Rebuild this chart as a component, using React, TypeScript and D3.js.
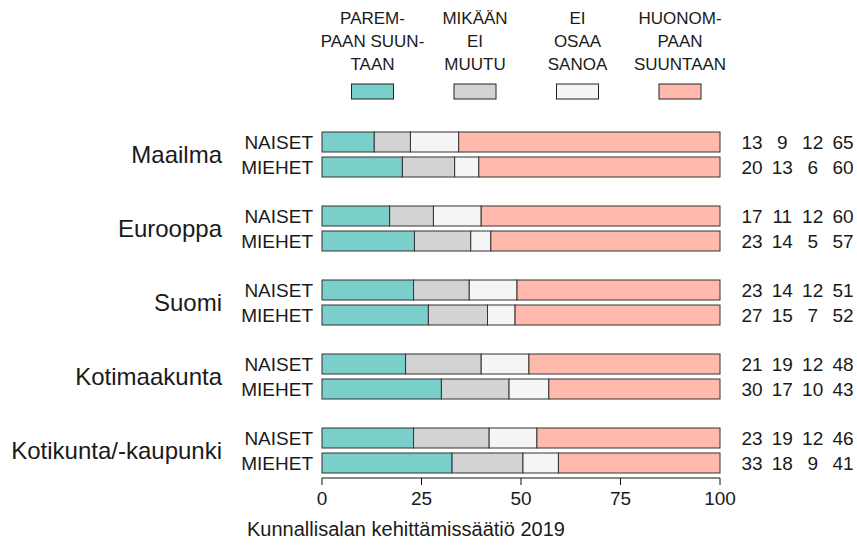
import React from "react";
import * as d3 from "d3";

const width = 857;
const height = 548;
const font = "'Liberation Sans', Arial, Helvetica, sans-serif";

const regions = ["Maailma", "Eurooppa", "Suomi", "Kotimaakunta", "Kotikunta/-kaupunki"];
const genders = ["NAISET", "MIEHET"];
const answerKeys = ["better", "same", "unknown", "worse"];
const answerLabels = [
  ["PAREM-", "PAAN SUUN-", "TAAN"],
  ["MIKÄÄN", "EI", "MUUTU"],
  ["EI", "OSAA", "SANOA"],
  ["HUONOM-", "PAAN", "SUUNTAAN"]
];
const colors = ["#7bcfca", "#d3d3d3", "#f5f5f5", "#ffb9ad"];

// percentages per region: [naiset, miehet], order better/same/unknown/worse
const maailma = [[13, 9, 12, 65], [20, 13, 6, 60]];
const eurooppa = [[17, 11, 12, 60], [23, 14, 5, 57]];
const suomi = [[23, 14, 12, 51], [27, 15, 7, 52]];
const kotimaakunta = [[21, 19, 12, 48], [30, 17, 10, 43]];
const kotikunta = [[23, 19, 12, 46], [33, 18, 9, 41]];
const values = [maailma, eurooppa, suomi, kotimaakunta, kotikunta];

const axisTicks = [0, 25, 50, 75, 100];
const caption = "Kunnallisalan kehittämissäätiö 2019";

const x = d3.scaleLinear().domain([0, 100]).range([322, 720]);
const y = d3.scaleBand().domain(regions).range([132, 473]).paddingInner(29 / 74);
const ySub = d3.scaleBand().domain(genders).range([0, y.bandwidth()]).paddingInner(0.2);
const legendX = d3.scalePoint().domain(answerKeys).range([372.5, 680]);
const numberX = d3.scalePoint().domain(answerKeys).range([752, 843]);

const stack = d3
  .stack()
  .keys(answerKeys)
  .offset(d3.stackOffsetExpand);

export default function App() {
  const rows = [];
  regions.forEach((r, i) => {
    genders.forEach((g, j) => {
      const v = values[i][j];
      rows.push({ region: r, gender: g, better: v[0], same: v[1], unknown: v[2], worse: v[3], vals: v });
    });
  });
  const series = stack(rows);
  const axisY = 478;

  return (
    <svg width={width} height={height} style={{ position: "absolute", left: 0, top: 0 }} fontFamily={font}>
      <rect width={width} height={height} fill="white" />

      {/* legend */}
      {answerKeys.map((k, i) => (
        <g key={k}>
          {answerLabels[i].map((line, li) => (
            <text key={li} x={legendX(k)} y={24 + li * 23} textAnchor="middle" fontSize={17} fill="#1a1a1a">
              {line}
            </text>
          ))}
          <rect x={legendX(k) - 21} y={84} width={42} height={15} fill={colors[i]} stroke="#222" strokeWidth={1} />
        </g>
      ))}

      {/* bars */}
      {series.map((s, si) =>
        s.map((d, di) => {
          const row = rows[di];
          const top = y(row.region) + ySub(row.gender);
          return (
            <rect
              key={`${si}_${di}`}
              x={x(d[0] * 100)}
              y={top}
              width={x(d[1] * 100) - x(d[0] * 100)}
              height={ySub.bandwidth()}
              fill={colors[si]}
              stroke="#333"
              strokeWidth={1}
            />
          );
        })
      )}

      {/* region labels */}
      {regions.map((r) => (
        <text
          key={r}
          x={222}
          y={y(r) + y.bandwidth() / 2}
          dy="0.36em"
          textAnchor="end"
          fontSize={24}
          fill="#1a1a1a"
        >
          {r}
        </text>
      ))}

      {/* gender labels and numbers */}
      {rows.map((row, i) => {
        const cy = y(row.region) + ySub(row.gender) + ySub.bandwidth() / 2;
        return (
          <g key={i}>
            <text x={313} y={cy} dy="0.36em" textAnchor="end" fontSize={19} fill="#1a1a1a">
              {row.gender}
            </text>
            {answerKeys.map((k, ki) => (
              <text key={k} x={numberX(k)} y={cy} dy="0.36em" textAnchor="middle" fontSize={19} fill="#1a1a1a">
                {row.vals[ki]}
              </text>
            ))}
          </g>
        );
      })}

      {/* x axis */}
      <line x1={x(0)} x2={x(100)} y1={axisY} y2={axisY} stroke="#111" />
      {axisTicks.map((t) => (
        <g key={t}>
          <line x1={x(t)} x2={x(t)} y1={axisY} y2={axisY + 7} stroke="#111" />
          <text x={x(t)} y={505} textAnchor="middle" fontSize={19} fill="#1a1a1a">
            {t}
          </text>
        </g>
      ))}

      <text x={406} y={536} textAnchor="middle" fontSize={20} fill="#1a1a1a">
        {caption}
      </text>
    </svg>
  );
}
